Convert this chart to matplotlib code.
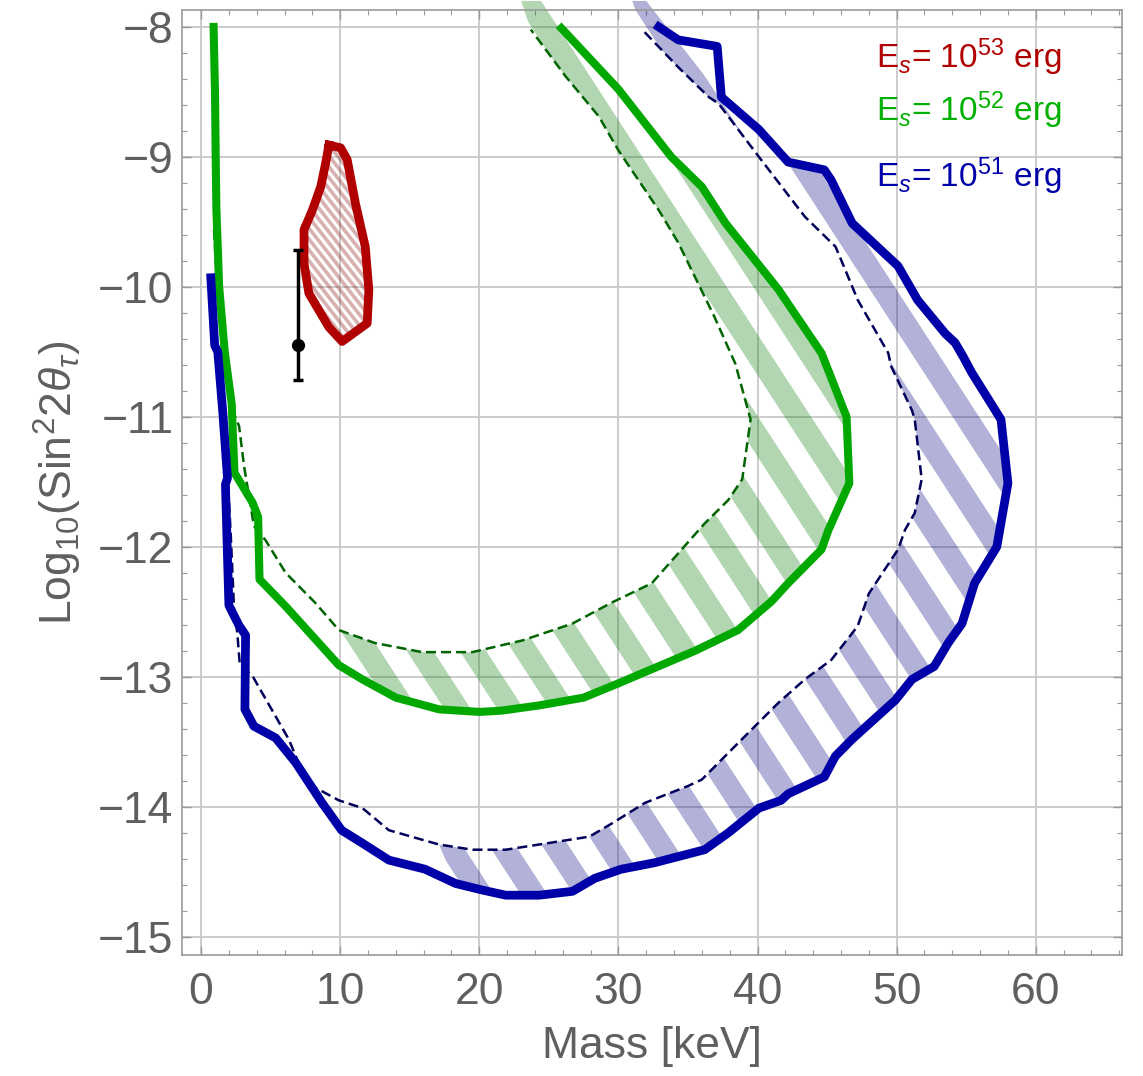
import numpy as np
import matplotlib
matplotlib.use("Agg")
import matplotlib.pyplot as plt
from matplotlib.collections import PolyCollection
from matplotlib.patches import Polygon
from matplotlib.ticker import MultipleLocator

plt.rcParams['font.family'] = ['Liberation Sans', 'DejaVu Sans']
plt.rcParams['mathtext.fontset'] = 'custom'
plt.rcParams['mathtext.rm'] = 'Liberation Sans'
plt.rcParams['mathtext.it'] = 'Liberation Sans:italic'
plt.rcParams['mathtext.bf'] = 'Liberation Sans:bold'

# E_s = 1e52 erg, outer (solid) and inner (dashed) contours
green_solid_x = [0.9, 1.0, 1.05, 1.1, 1.3, 1.7, 2.2, 2.4, 3.7, 4.1, 4.2, 6.1, 9.9, 11.6, 14.0, 17.1, 20.0,
                 21.6, 24.3, 27.5, 30.0, 35.5, 38.6, 41.0, 42.2, 44.6, 45.1, 46.6, 46.4, 44.6, 41.5, 37.7,
                 36.0, 33.8, 30.0, 25.9]
green_solid_y = [-8.0, -8.5, -9.0, -9.4, -10.0, -10.5, -10.9, -11.43, -11.66, -11.77, -12.25, -12.46, -12.91,
                 -13.02, -13.16, -13.25, -13.27, -13.26, -13.22, -13.16, -13.05, -12.8, -12.64, -12.42, -12.28,
                 -12.02, -11.87, -11.51, -11.0, -10.51, -10.02, -9.51, -9.23, -9.0, -8.48, -8.01]
green_dash_x = [0.93, 1.17, 1.7, 2.25, 2.73, 3.09, 3.8, 4.64, 6.08, 8.2, 9.9, 12.5, 15.9, 19.5, 23.1, 26.7,
                29.5, 32.4, 34.3, 36.2, 37.9, 38.9, 39.5, 38.4, 36.9, 34.3, 32.9, 30.0, 28.6, 26.2, 23.7]
green_dash_y = [-9.56, -10.02, -10.5, -10.95, -11.07, -11.38, -11.84, -11.95, -12.2, -12.43, -12.64, -12.74,
                -12.81, -12.81, -12.72, -12.59, -12.43, -12.28, -12.05, -11.82, -11.64, -11.48, -11.02, -10.59,
                -10.23, -9.66, -9.41, -8.95, -8.69, -8.38, -8.02]
green_top_x = [23.0, 25.8]

# E_s = 1e51 erg
blue_solid_x = [0.7, 0.98, 1.2, 1.55, 1.9, 1.75, 2.0, 2.7, 3.2, 3.15, 3.8, 5.36, 6.8, 8.7, 10.1, 11.6, 13.5,
                16.1, 18.3, 20.2, 21.9, 24.3, 26.7, 28.3, 30.2, 32.6, 36.2, 37.9, 40.1, 41.7, 42.2, 44.8, 45.6,
                46.8, 49.9, 51.1, 52.7, 53.7, 54.7, 55.6, 57.2, 58.0, 57.5, 55.4, 54.8, 54.2, 53.5, 51.5, 50.1,
                46.8, 45.3, 44.8, 42.2, 40.1, 37.4, 37.1, 34.3, 32.9]
blue_solid_y = [-9.93, -10.45, -10.5, -10.95, -11.47, -11.52, -12.45, -12.6, -12.68, -13.25, -13.38, -13.47,
                -13.66, -13.97, -14.18, -14.28, -14.41, -14.48, -14.59, -14.64, -14.68, -14.68, -14.65, -14.55,
                -14.48, -14.43, -14.33, -14.2, -14.01, -13.95, -13.9, -13.77, -13.61, -13.48, -13.18, -13.02,
                -12.92, -12.74, -12.59, -12.28, -12.0, -11.51, -11.02, -10.66, -10.54, -10.43, -10.36, -10.1,
                -9.84, -9.51, -9.18, -9.1, -9.04, -8.79, -8.54, -8.15, -8.1, -8.0]
blue_dash_x = [1.05, 1.41, 1.87, 2.13, 2.37, 2.6, 2.78, 3.73, 6.3, 7.0, 8.0, 9.9, 11.6, 13.5, 17.1, 19.5, 21.9,
               25.5, 27.9, 29.5, 31.9, 35.0, 36.0, 38.6, 41.5, 43.4, 45.3, 47.2, 48.0, 50.1, 50.6, 51.3, 51.8,
               51.3, 51.1, 49.6, 49.4, 47.2, 46.0, 45.6, 43.4, 40.1, 37.2, 36.5, 34.3, 31.7]
blue_dash_y = [-10.28, -10.87, -11.38, -11.9, -12.48, -12.66, -12.9, -13.0, -13.48, -13.66, -13.84, -13.95,
               -14.01, -14.18, -14.29, -14.33, -14.33, -14.27, -14.23, -14.13, -13.97, -13.84, -13.79, -13.51,
               -13.2, -13.02, -12.87, -12.61, -12.36, -12.02, -11.87, -11.74, -11.48, -11.02, -10.95, -10.61,
               -10.51, -10.1, -9.79, -9.69, -9.46, -9.0, -8.59, -8.54, -8.31, -8.02]
blue_top_x = [31.0, 32.0]

# E_s = 1e53 erg, closed region
red_x = [9.19, 10.03, 10.5, 11.1, 11.8, 12.06, 11.94, 10.14, 9.19, 7.75, 7.4, 7.4, 8.0, 8.6, 8.95]
red_y = [-8.91, -8.93, -9.02, -9.36, -9.69, -10.02, -10.28, -10.42, -10.31, -10.05, -9.82, -9.56, -9.41,
         -9.23, -9.05]

# data point with asymmetric error
point_x, point_y = 7.0, -10.45
point_err_low, point_err_high = 0.27, 0.73

labels = [r'E$_s$= 10$^{53}$ erg', r'E$_s$= 10$^{52}$ erg', r'E$_s$= 10$^{51}$ erg']
label_colors = ['#b00000', '#00b000', '#0000a8']
label_y = [-8.315, -8.725, -9.23]


def stripe_fill(ax, xs, ys, color, alpha, period, angle, phase, duty=0.5):
    poly = np.column_stack([xs, ys])
    disp = ax.transData.transform(poly)
    k = 1.0 / np.tan(np.radians(angle))
    u = disp[:, 0] + k * disp[:, 1]
    y0, y1 = disp[:, 1].min() - 5, disp[:, 1].max() + 5
    start = np.floor((u.min() - phase) / period) * period + phase
    w = period * duty
    inv = ax.transData.inverted()
    quads = []
    for c in np.arange(start, u.max() + period, period):
        q = [(c - k * y0, y0), (c + w - k * y0, y0), (c + w - k * y1, y1), (c - k * y1, y1)]
        quads.append(inv.transform(q))
    coll = PolyCollection(quads, facecolors=color, edgecolors='none', alpha=alpha, zorder=2)
    clip = Polygon(poly, closed=True, transform=ax.transData, fc='none', ec='none')
    ax.add_patch(clip)
    coll.set_clip_path(clip)
    ax.add_collection(coll)


fig = plt.figure(figsize=(11.43, 10.76), dpi=100)
ax = fig.add_axes([182.3 / 1143, 1 - 955 / 1076, (1122 - 182.3) / 1143, 945 / 1076])
ax.set_xlim(-1.35, 66.2)
ax.set_ylim(-15.14, -7.87)

# hatched bands between inner and outer contours
gsx, gsy = np.array(green_solid_x), np.array(green_solid_y)
gdx, gdy = np.array(green_dash_x), np.array(green_dash_y)
m_gs, m_gd = gsx >= 9.8, gdx >= 9.8
g_fx = np.r_[gdx[m_gd], green_top_x, gsx[m_gs][::-1]]
g_fy = np.r_[gdy[m_gd], [-7.8, -7.8], gsy[m_gs][::-1]]
stripe_fill(ax, g_fx, g_fy, (0, 0.48, 0), 0.3, 53, 57, 46.7)

bsx, bsy = np.array(blue_solid_x), np.array(blue_solid_y)
bdx, bdy = np.array(blue_dash_x), np.array(blue_dash_y)
m_bs = (bsx >= 16.5) & (bsy < -8.5)
m_bd = bdx >= 16.5
b_fx = np.r_[bdx[m_bd], blue_top_x, bsx[m_bs][::-1]]
b_fy = np.r_[bdy[m_bd], [-7.8, -7.8], bsy[m_bs][::-1]]
stripe_fill(ax, b_fx, b_fy, (0, 0, 0.5), 0.3, 53, 57, 2.7)

stripe_fill(ax, red_x, red_y, (0.5, 0, 0), 0.3, 8.5, 52, 0, duty=0.55)

ax.plot(green_dash_x, green_dash_y, color='#006400', lw=1.8, dashes=(4, 2), zorder=3)
ax.plot(blue_dash_x, blue_dash_y, color='#00005a', lw=1.8, dashes=(4, 2), zorder=3)
ax.plot(green_solid_x, green_solid_y, color='#00a800', lw=5.8, solid_joinstyle='round', zorder=4)
ax.plot(blue_solid_x, blue_solid_y, color='#0000a8', lw=6.3, solid_joinstyle='round', zorder=4)
ax.plot(red_x + red_x[:1], red_y + red_y[:1], color='#b00000', lw=6.3, solid_joinstyle='round', zorder=4)

ax.errorbar(point_x, point_y, yerr=[[point_err_low], [point_err_high]], fmt='o', color='k', ms=8.5,
            lw=2.5, capsize=3.6, capthick=2.5, zorder=5)

for txt, col, yy in zip(labels, label_colors, label_y):
    ax.text(48.5, yy, txt, color=col, fontsize=24, va='baseline', ha='left', zorder=6)

ax.xaxis.set_major_locator(MultipleLocator(10))
ax.xaxis.set_minor_locator(MultipleLocator(2))
ax.yaxis.set_major_locator(MultipleLocator(1))
ax.yaxis.set_minor_locator(MultipleLocator(0.2))
ax.grid(which='major', color='#c8c8c8', lw=1.3)
ax.set_axisbelow(True)
ax.tick_params(which='both', direction='in', top=True, right=True, color='#999999', labelcolor='#5f5f5f',
               labelsize=32)
ax.tick_params(which='major', length=6.5, width=1.0)
ax.tick_params(which='minor', length=3.6, width=0.8)
ax.tick_params(axis='y', pad=6.5)
ax.tick_params(axis='x', pad=12)
for s in ax.spines.values():
    s.set_color('#999999')
    s.set_linewidth(1.2)

ax.set_xlabel('Mass [keV]', fontsize=32, color='#5f5f5f')
ax.xaxis.set_label_coords(0.5, -0.097)
ax.xaxis.label.set_va('center')
ax.set_ylabel(r'Log$_{10}$(Sin$^2$2$\theta_\tau$)', fontsize=32, color='#5f5f5f')
ax.yaxis.set_label_coords(-0.132, 0.5)
ax.yaxis.label.set_va('center')
ax.yaxis.label.set_ha('center')

fig.savefig('out.png', dpi=100)
